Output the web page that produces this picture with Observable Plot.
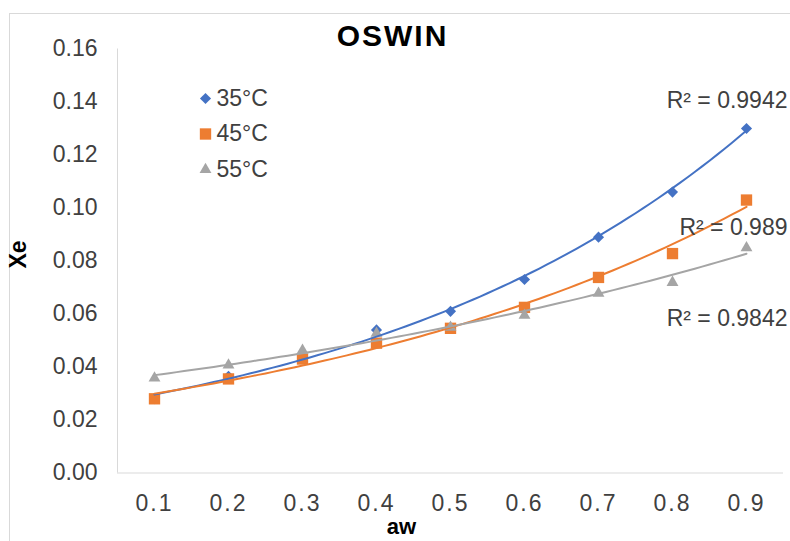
<!DOCTYPE html>
<html>
<head>
<meta charset="utf-8">
<script src="https://cdn.jsdelivr.net/npm/d3@7"></script>
<script src="https://cdn.jsdelivr.net/npm/@observablehq/plot@0.6"></script>
<style>
  html, body { margin: 0; padding: 0; background: #fff; overflow: hidden; }
  #wrap { position: relative; width: 790px; height: 541px; }
  #border { position: absolute; left: 9px; top: 13px; width: 820px; height: 600px; border: 1px solid #d9d9d9; pointer-events: none; }
  #chart { position: absolute; left: 0; top: 0; }
</style>
</head>
<body>
<div id="wrap"><div id="border"></div><div id="chart"></div></div>
<script>
const aw = [0.1, 0.2, 0.3, 0.4, 0.5, 0.6, 0.7, 0.8, 0.9];
const seriesNames = ["35°C", "45°C", "55°C"];
const xe35 = [0.028, 0.0365, 0.044, 0.054, 0.061, 0.073, 0.089, 0.106, 0.130];
const xe45 = [0.028, 0.0355, 0.043, 0.049, 0.0546, 0.0625, 0.0738, 0.0828, 0.103];
const xe55 = [0.0358, 0.0407, 0.0463, 0.0527, 0.055, 0.0595, 0.0678, 0.0719, 0.085];
const r2Labels = ["R² = 0.9942", "R² = 0.989", "R² = 0.9842"];
const xTicks = [0.1, 0.2, 0.3, 0.4, 0.5, 0.6, 0.7, 0.8, 0.9];
const yTicks = [0, 0.02, 0.04, 0.06, 0.08, 0.10, 0.12, 0.14, 0.16];

const colors = ["#4472C4", "#ED7D31", "#A5A5A5"];
const symbols = ["diamond2", "square", "triangle"];
const radii = [5, 6.4, 4.4];
const legendRowY = [98, 133.5, 169];
const r2LabelY = [100, 227, 318];
const allValues = [xe35, xe45, xe55];

// Excel-style exponential trendline: least squares on ln(y)
function expFit(xs, ys) {
  const ly = ys.map(Math.log);
  const mx = d3.mean(xs), my = d3.mean(ly);
  let sxy = 0, sxx = 0;
  xs.forEach((x, i) => { sxy += (x - mx) * (ly[i] - my); sxx += (x - mx) ** 2; });
  const b = sxy / sxx, a = Math.exp(my - b * mx);
  return x => a * Math.exp(b * x);
}

const points = [];
const trends = [];
allValues.forEach((vals, s) => {
  vals.forEach((v, i) => points.push({series: s, aw: aw[i], xe: v}));
  const f = expFit(aw, vals);
  const n = 80;
  for (let k = 0; k <= n; k++) {
    const x = aw[0] + (aw[aw.length - 1] - aw[0]) * k / n;
    trends.push({series: s, aw: x, xe: f(x)});
  }
});

const font = "'Liberation Sans', Arial, sans-serif";
const textColor = "#404040";
const marginTop = 48.5, marginLeft = 117;
const fs = 23;

const marks = [
  Plot.ruleX([0.05], {stroke: "#d9d9d9", strokeWidth: 1}),
  Plot.ruleY([0], {stroke: "#d9d9d9", strokeWidth: 1}),
  Plot.axisY(yTicks, {tickSize: 0, tickPadding: 20, tickFormat: d3.format(".2f"), fontSize: fs, fill: textColor, label: null}),
  Plot.axisX(xTicks, {tickSize: 0, tickPadding: 22, tickFormat: d3.format(".1f"), fontSize: fs, fill: textColor, label: null}),
];

[0, 1, 2].forEach(s => {
  marks.push(Plot.dot(points.filter(d => d.series === s), {
    x: "aw", y: "xe", symbol: () => symbols[s], r: radii[s], fill: colors[s], stroke: "none"
  }));
});
[0, 1, 2].forEach(s => {
  marks.push(Plot.line(trends.filter(d => d.series === s), {
    x: "aw", y: "xe", stroke: colors[s], strokeWidth: 2, curve: "linear"
  }));
});

// legend and R² labels
[0, 1, 2].forEach(s => {
  marks.push(Plot.dot([seriesNames[s]], {
    frameAnchor: "top-left", dx: 205 - marginLeft, dy: legendRowY[s] - marginTop,
    symbol: () => symbols[s], r: radii[s], fill: colors[s], stroke: "none"
  }));
  marks.push(Plot.text([seriesNames[s]], {
    text: d => d, frameAnchor: "top-left", dx: 216 - marginLeft, dy: legendRowY[s] - marginTop,
    textAnchor: "start", lineAnchor: "middle", fontSize: fs, fill: textColor
  }));
  marks.push(Plot.text([r2Labels[s]], {
    text: d => d, frameAnchor: "top-right", dx: 4, dy: r2LabelY[s] - marginTop,
    textAnchor: "end", lineAnchor: "middle", fontSize: fs, fill: textColor
  }));
});

// title and axis titles
marks.push(Plot.text(["OSWIN"], {
  text: d => d, frameAnchor: "top", dx: -58, dy: 35.5 - marginTop,
  lineAnchor: "middle", fontSize: 30, fontWeight: "bold", fill: "#000"
}));
marks.push(Plot.text(["Xe"], {
  text: d => d, frameAnchor: "left", dx: 18.5 - marginLeft, dy: 7.5,
  rotate: -90, lineAnchor: "middle", fontSize: fs, fontWeight: "bold", fill: "#000"
}));
marks.push(Plot.text(["aw"], {
  text: d => d, frameAnchor: "bottom", dx: -49, dy: 54,
  lineAnchor: "middle", fontSize: 22, fontWeight: "bold", fill: "#000"
}));

const chart = Plot.plot({
  width: 790, height: 541,
  marginTop, marginLeft, marginRight: 7, marginBottom: 541 - 472.5,
  x: {domain: [0.05, 0.95]},
  y: {domain: [0, 0.16]},
  style: {fontFamily: font, background: "transparent", overflow: "visible"},
  marks
});
chart.querySelectorAll('[aria-label="x-axis tick label"] text').forEach(t => t.style.letterSpacing = "2px");
chart.querySelectorAll('text').forEach(t => { if (t.textContent === "OSWIN") t.style.letterSpacing = "2px"; });
document.getElementById("chart").appendChild(chart);
</script>
</body>
</html>
